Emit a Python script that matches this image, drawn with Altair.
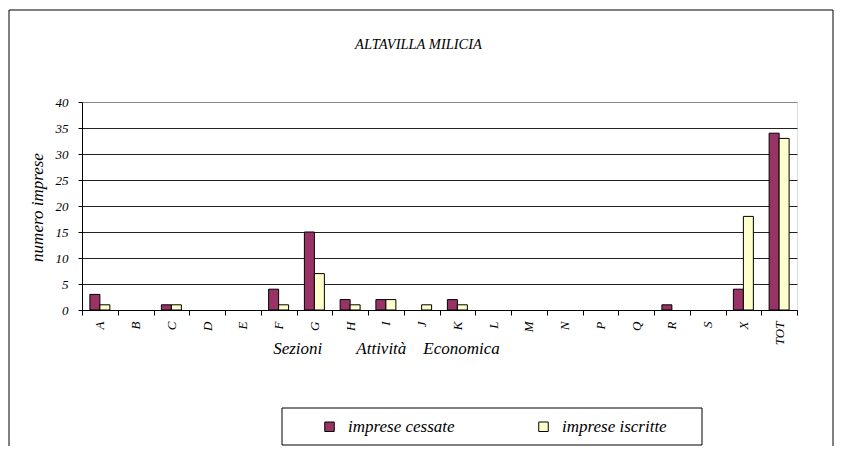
import altair as alt
import pandas as pd

sezioni = ["A", "B", "C", "D", "E", "F", "G", "H", "I", "J", "K", "L", "M", "N", "P", "Q", "R", "S", "X", "TOT"]
cessate = [3, 0, 1, 0, 0, 4, 15, 2, 2, 0, 2, 0, 0, 0, 0, 0, 1, 0, 4, 34]
iscritte = [1, 0, 1, 0, 0, 1, 7, 1, 2, 1, 1, 0, 0, 0, 0, 0, 0, 0, 18, 33]
serie = ["imprese cessate", "imprese iscritte"]
colori = ["#993366", "#FFFFCC"]
y_ticks = [0, 5, 10, 15, 20, 25, 30, 35, 40]

rows = []
for s, c, i in zip(sezioni, cessate, iscritte):
    rows.append({"sez": s, "serie": serie[0], "val": c})
    rows.append({"sez": s, "serie": serie[1], "val": i})
df = pd.DataFrame(rows)

FONT = "Times New Roman, Liberation Serif, DejaVu Serif, serif"
nb = "\u00a0"
x_title = "Sezioni" + nb * 8 + "Attività" + nb * 4 + "Economica"

bars = alt.Chart(df).transform_filter("datum.val > 0").mark_bar(
    stroke="black", strokeWidth=1
).encode(
    x=alt.X(
        "sez:N",
        sort=sezioni,
        scale=alt.Scale(domain=sezioni, paddingInner=0, paddingOuter=0),
        axis=alt.Axis(
            title=x_title,
            titleFont=FONT, titleFontStyle="italic", titleFontWeight="normal",
            titleFontSize=17, titleColor="black",
            titleX=304, titleY=30, titleAlign="center", titleBaseline="top",
            labelAngle=270, labelFont=FONT, labelFontStyle="italic",
            labelFontSize=13, labelColor="black", labelPadding=6,
            tickBand="extent", tickSize=5, tickColor="black",
            domainColor="black", grid=False,
        ),
    ),
    xOffset=alt.XOffset("serie:N",
                        scale=alt.Scale(domain=serie, paddingInner=0, paddingOuter=0.79)),
    y=alt.Y(
        "val:Q",
        scale=alt.Scale(domain=[0, 40], nice=False),
        axis=alt.Axis(
            values=y_ticks, title="numero imprese",
            titleFont=FONT, titleFontStyle="italic", titleFontWeight="normal",
            titleFontSize=17, titleColor="black",
            titleX=-45, titleY=105, titleAngle=270, titleAlign="center",
            titleBaseline="middle",
            labelFont=FONT, labelFontStyle="italic", labelFontSize=13,
            labelColor="black", labelPadding=10,
            tickSize=4, tickColor="black", domainColor="black",
            gridColor={"condition": {"test": "datum.value === 40", "value": "#888888"},
                       "value": "#222222"},
        ),
    ),
    color=alt.Color(
        "serie:N",
        scale=alt.Scale(domain=serie, range=colori),
        legend=alt.Legend(
            title=None, orient="none", direction="horizontal",
            legendX=239, legendY=316, padding=0,
            symbolType="square", symbolSize=90, symbolStrokeColor="black",
            symbolStrokeWidth=1, labelFont=FONT, labelFontStyle="italic",
            labelFontSize=17, labelColor="black", labelOffset=10,
            columnPadding=80, labelLimit=300,
        ),
    ),
)

frame = alt.Chart(alt.Data(values=[{}])).mark_rect(
    fill=None, stroke="black", strokeWidth=1
).encode(
    x=alt.value(-73), x2=alt.value(751), y=alt.value(-92), y2=alt.value(500)
)

legend_box = alt.Chart(alt.Data(values=[{}])).mark_rect(
    fill="white", stroke="black", strokeWidth=1
).encode(
    x=alt.value(200), x2=alt.value(620), y=alt.value(306), y2=alt.value(343)
)

chart = alt.layer(frame, legend_box, bars).properties(
    width=715, height=208,
    autosize=alt.AutoSizeParams(type="none"),
    padding={"left": 74, "top": 94, "right": 38, "bottom": 136},
    title=alt.TitleParams(
        "ALTAVILLA MILICIA", font=FONT, fontStyle="italic", fontWeight="normal",
        fontSize=14.5, color="black", anchor="middle", dx=-21, offset=-50,
        baseline="middle",
    ),
).configure_view(stroke="#888888").configure(background="white")

chart.save("out.html", embed_options={"renderer": "svg", "actions": False})
